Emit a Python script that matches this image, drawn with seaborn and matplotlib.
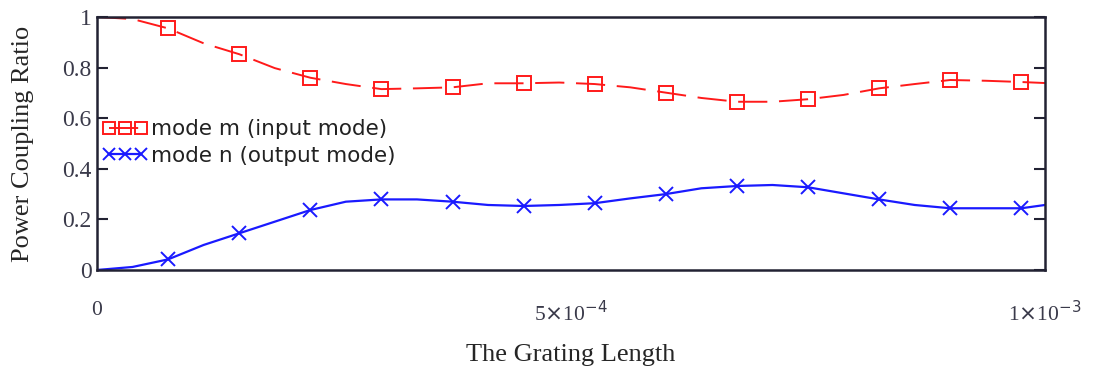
import numpy as np
import pandas as pd
import matplotlib
matplotlib.use("Agg")
import matplotlib.pyplot as plt
import seaborn as sns

# grating length samples (m)
length = [0.0, 3.75e-5, 7.5e-5, 1.125e-4, 1.5e-4, 1.875e-4, 2.25e-4, 2.625e-4, 3.0e-4,
          3.375e-4, 3.75e-4, 4.125e-4, 4.5e-4, 4.875e-4, 5.25e-4, 5.625e-4, 6.0e-4,
          6.375e-4, 6.75e-4, 7.125e-4, 7.5e-4, 7.875e-4, 8.25e-4, 8.625e-4, 9.0e-4,
          9.375e-4, 9.75e-4, 1.0e-3]
mode_m = [1.0, 0.992, 0.955, 0.896, 0.853, 0.798, 0.760, 0.735, 0.715, 0.718, 0.722,
          0.738, 0.738, 0.741, 0.735, 0.722, 0.701, 0.680, 0.665, 0.665, 0.675, 0.692,
          0.718, 0.735, 0.751, 0.748, 0.743, 0.739]
mode_n = [0.0, 0.012, 0.042, 0.099, 0.145, 0.191, 0.237, 0.270, 0.279, 0.279, 0.270,
          0.257, 0.253, 0.257, 0.264, 0.283, 0.300, 0.323, 0.332, 0.336, 0.327, 0.303,
          0.279, 0.257, 0.244, 0.244, 0.244, 0.257]
label_m = "mode m (input mode)"
label_n = "mode n (output mode)"
x_ticks = [0.0, 5e-4, 1e-3]
x_ticklabels = ["0", r"5$\times$10$^{-4}$", r"1$\times$10$^{-3}$"]
y_ticks = [0, 0.2, 0.4, 0.6, 0.8, 1.0]
y_ticklabels = ["0", "0.2", "0.4", "0.6", "0.8", "1"]

sns.set_style("white")
plt.rcParams["font.family"] = ["DejaVu Sans"]

df = pd.DataFrame({"x": length, "m": mode_m, "n": mode_n})

fig = plt.figure(figsize=(10.95, 3.67), dpi=100)
ax = fig.add_axes([97 / 1095, 1 - 270 / 367, 948 / 1095, 253 / 367])

red = "#ff1a1a"
blue = "#1a1aff"
sns.lineplot(data=df, x="x", y="m", ax=ax, color=red, lw=1.4,
             linestyle=(0, (15, 6)), marker="s", markersize=9.5,
             markerfacecolor="none", markeredgecolor=red, markeredgewidth=1.4,
             markevery=list(range(2, 27, 2)), label=label_m, legend=False)
sns.lineplot(data=df, x="x", y="n", ax=ax, color=blue, lw=1.6,
             marker="x", markersize=10, markeredgecolor=blue, markeredgewidth=1.4,
             markevery=list(range(2, 27, 2)), label=label_n, legend=False)

ax.set_xlim(0, 1e-3)
ax.set_ylim(0, 1)
ax.set_xticks(x_ticks)
ax.set_yticks(y_ticks)

serif = "Liberation Serif"
tick_color = "#3a3a4a"
ax.set_xticklabels(x_ticklabels, fontfamily=serif, fontsize=15.5, color=tick_color)
ax.set_yticklabels(y_ticklabels, fontfamily=serif, fontsize=17, color=tick_color)
ax.tick_params(axis="y", direction="in", length=8, width=1.5, color="#222233",
               right=True, left=True, pad=4)
ax.tick_params(axis="x", direction="in", length=11, width=1.5, color="#222233", pad=22)

for s in ax.spines.values():
    s.set_color("#222233")
    s.set_linewidth(1.8)

ax.set_xlabel("The Grating Length", fontfamily=serif, fontsize=19, labelpad=13)
ax.set_ylabel("Power Coupling Ratio", fontfamily=serif, fontsize=19, labelpad=20)

leg = ax.legend(loc="upper left", bbox_to_anchor=(0.006, 0.595), frameon=False,
                numpoints=3, handlelength=2.1, handletextpad=0.15, borderpad=0,
                borderaxespad=0, labelspacing=0.3,
                prop={"family": "DejaVu Sans", "size": 15.5})
for h in leg.legend_handles:
    h.set_markersize(8.5)
for t in leg.get_texts():
    t.set_color("#222222")

fig.savefig("out.png", dpi=100)
